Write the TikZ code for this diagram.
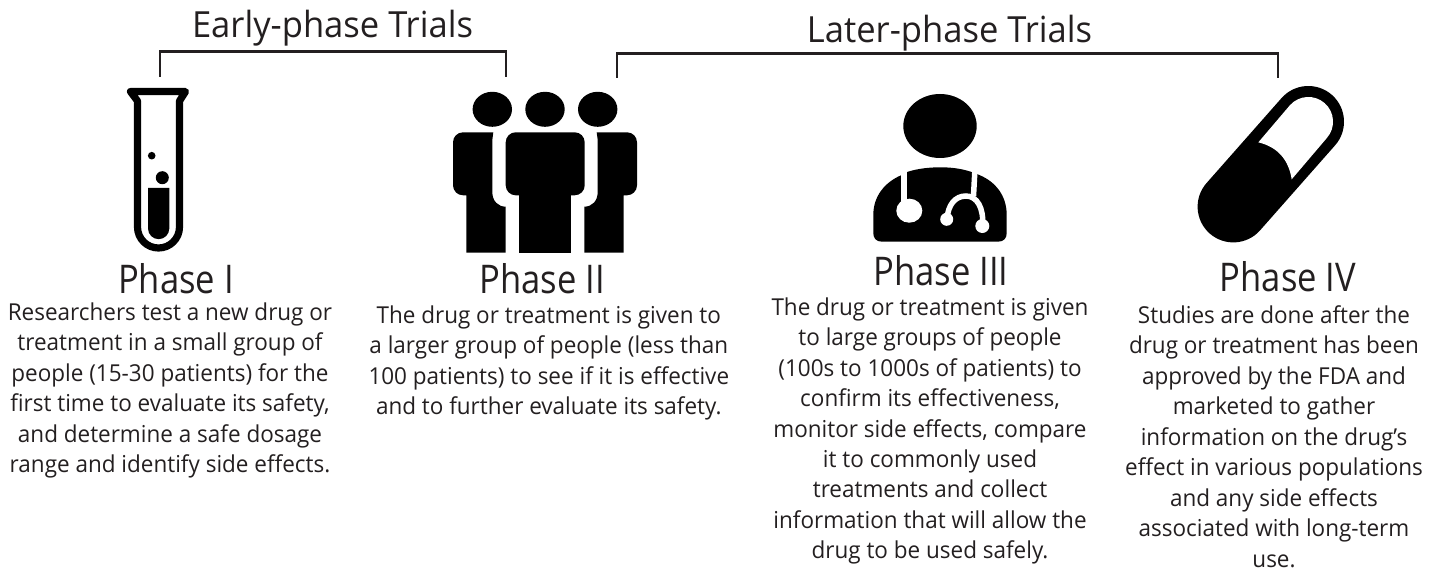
\documentclass[tikz,border=0pt]{standalone}
\usepackage{fontspec}
\setmainfont{Open Sans}
\newfontfamily\bodyf{Open Sans}[FakeStretch=0.965]
\newfontfamily\trialf{Open Sans}[FakeStretch=0.96]
\newfontfamily\phasef{Open Sans}[FakeStretch=0.875]
\definecolor{ink}{HTML}{231F20}
\newcommand{\topstrut}{\rule{0pt}{20pt}}
\tikzset{
  bracket/.style={draw=ink,line width=2.8pt,line cap=butt,line join=miter},
  head/.style={font=\trialf\fontsize{36}{40}\selectfont,text=ink,inner sep=0pt,anchor=base},
  phase/.style={font=\phasef\fontsize{39.5}{44}\selectfont,text=ink,inner sep=0pt,anchor=base},
  body/.style={font=\bodyf\fontsize{23.3}{30.45}\selectfont,text=ink,inner sep=0pt,align=center,anchor=north}
}
\begin{document}
\begin{tikzpicture}[x=1pt,y=-1pt]
\useasboundingbox (0,0) rectangle (1442,572);
% brackets
\coordinate (e1) at (160,77); \coordinate (e2) at (506,77);
\coordinate (l1) at (617,78); \coordinate (l2) at (1278,78);
\draw[bracket] (e1) -- (160,51.7) -- (506,51.7) -- (e2);
\draw[bracket] (l1) -- (617,53.3) -- (1278,53.3) -- (l2);
\node[head] (early) at (332.5,37.3) {Early-phase Trials};
\node[head] (later) at (949.5,42.3) {Later-phase Trials};
% test tube
\draw[black,line width=7.2pt,line join=round,line cap=round]
  (130.5,91.6) -- (185.5,91.6) -- (179.5,101) -- (179.5,227) arc[start angle=0,end angle=180,radius=21] -- (137.5,101) -- cycle;
\fill[black] (148,188) -- (169.3,188) -- (169.3,228.5) arc[start angle=0,end angle=180,radius=10.65] -- cycle;
\fill[black] (151.7,155.7) circle[radius=3.8];
\fill[black] (162.3,177.7) circle[radius=6.5];
% people
\foreach \cx in {492.3,545,597.7} \fill[black] (\cx,109.3) ellipse[x radius=19.7,y radius=17.5];
\fill[black,rounded corners=10pt] (505.7,132.3) -- (584.7,132.3) -- (584.7,195.3) -- (505.7,195.3) -- cycle;
\fill[black] (518.7,180) rectangle (571.3,252.7);
\fill[black] (453,142.3) arc[start angle=180,end angle=270,radius=10] -- (493.3,132.3)
  -- (492.3,140) -- (492.3,192) .. controls (492.3,201) and (498,206.7) .. (505.7,206.7)
  -- (505.7,252.7) -- (466.3,252.7) -- (466.3,195.3) -- (463,195.3) arc[start angle=90,end angle=180,radius=10] -- cycle;
\fill[black] (637,142.3) arc[start angle=0,end angle=-90,radius=10] -- (596.7,132.3)
  -- (597.7,140) -- (597.7,192) .. controls (597.7,201) and (592,206.7) .. (584.3,206.7)
  -- (584.3,252.7) -- (623.7,252.7) -- (623.7,195.3) -- (627,195.3) arc[start angle=90,end angle=0,radius=10] -- cycle;
% doctor
\fill[black] (940,126) ellipse[x radius=36.7,y radius=32];
\fill[black] (873.3,215) .. controls (873.3,196) and (885,182) .. (901.7,175)
  -- (908,171.7) .. controls (918,168.5) and (930,167.3) .. (940,167.3)
  .. controls (951,167.3) and (961,168.5) .. (970.7,171.7)
  -- (979.3,175) .. controls (996,182) and (1006.7,196) .. (1006.7,215)
  -- (1006.7,233) .. controls (1006.7,238) and (1004,241.7) .. (998,241.7)
  -- (882,241.7) .. controls (876,241.7) and (873.3,238) .. (873.3,233) -- cycle;
\draw[white,line width=5.5pt] (904,170) -- (904,204);
\fill[white] (909.3,210.7) ellipse[x radius=13,y radius=12];
\draw[white,line width=5.5pt] (975,168) -- (973.5,196);
\draw[white,line width=5.5pt] (947,219) .. controls (948,205) and (955,196) .. (966,196)
  .. controls (977,196) and (984,208) .. (982.5,226);
\fill[white] (946.7,219.3) circle[radius=6.5];
\fill[white] (982.3,226) circle[radius=7];
% pill
\draw[black,line width=71.4pt,line cap=round] (1233.3,206.7) -- (1308.3,121.7);
\begin{scope}[shift={(1190,70)},scale=1/3]
\fill[white] (205,217) -- (299.5,106) .. controls (326.6,75.3) and (373.3,72.4) .. (404,99.5)
  .. controls (434.7,126.6) and (437.6,173.3) .. (410.5,204) -- (305,328)
  .. controls (295.7,268) and (262.3,231) .. (205,217) -- cycle;
\end{scope}
% text
\node[phase] (p1) at (176,293.3) {Phase I};
\node[phase] (p2) at (542,293.3) {Phase II};
\node[phase] (p3) at (941,285.7) {Phase III};
\node[phase] (p4) at (1288,291.7) {Phase IV};
\node[body] (t1) at (170,300) {\topstrut Researchers test a new drug or\\treatment in a small group of\\people (15-30 patients) for the\\first time to evaluate its safety,\\and determine a safe dosage\\range and identify side effects.};
\node[body] (t2) at (548.8,303.3) {\topstrut The drug or treatment is given to\\a larger group of people (less than\\100 patients) to see if it is effective\\and to further evaluate its safety.};
\node[body] (t3) at (930,295) {\topstrut The drug or treatment is given\\to large groups of people\\(100s to 1000s of patients) to\\confirm its effectiveness,\\monitor side effects, compare\\it to commonly used\\treatments and collect\\information that will allow the\\drug to be used safely.};
\node[body] (t4) at (1274,303.3) {\topstrut Studies are done after the\\drug or treatment has been\\approved by the FDA and\\marketed to gather\\information on the drug’s\\effect in various populations\\and any side effects\\associated with long-term\\use.};
\end{tikzpicture}
\end{document}
